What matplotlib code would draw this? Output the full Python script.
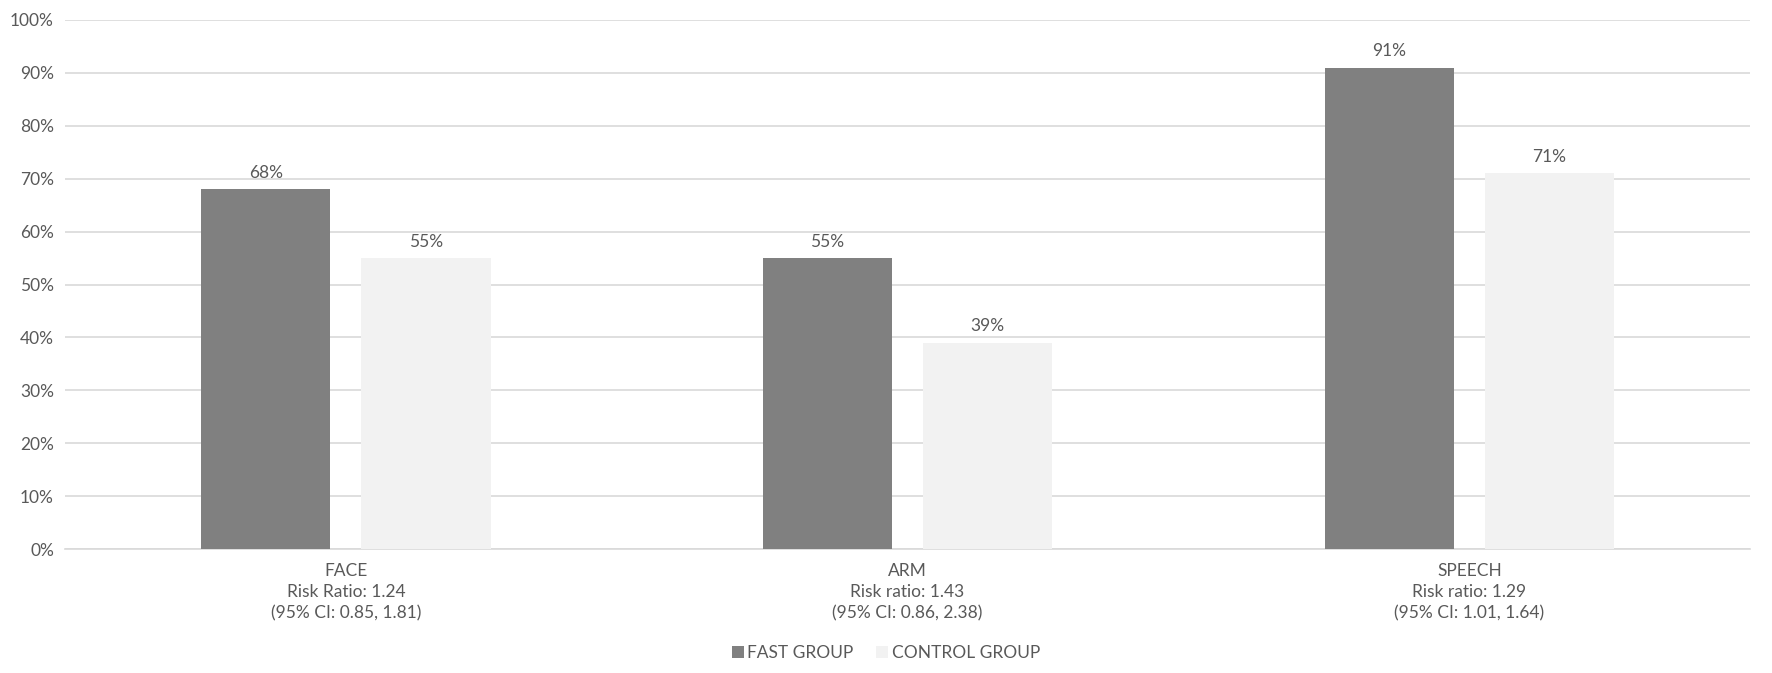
import numpy as np
import matplotlib.pyplot as plt
from matplotlib import ticker

plt.rcParams['font.family'] = ['Lato', 'DejaVu Sans']

categories = ["FACE\nRisk Ratio: 1.24\n(95% CI: 0.85, 1.81)",
              "ARM\nRisk ratio: 1.43\n(95% CI: 0.86, 2.38)",
              "SPEECH\nRisk ratio: 1.29\n(95% CI: 1.01, 1.64)"]
fast_group = [68, 55, 91]
control_group = [55, 39, 71]
series_names = ["FAST GROUP", "CONTROL GROUP"]

text_color = "#595959"
grid_color = "#d9d9d9"
fs = 12.5

fig = plt.figure(figsize=(17.72, 6.73), dpi=100)
ax = fig.add_axes([0.0367, 0.1842, 0.951, 0.7861])

ind = np.arange(len(categories))
width = 0.23
offset = 0.1425
b1 = ax.bar(ind - offset, fast_group, width, color="#808080", label=series_names[0], zorder=3)
b2 = ax.bar(ind + offset, control_group, width, color="#f2f2f2", label=series_names[1], zorder=3)
for bars in (b1, b2):
    ax.bar_label(bars, fmt="%d%%", padding=6, color=text_color, fontsize=fs)

ax.set_xlim(-0.5, 2.5)
ax.set_ylim(0, 100)
ax.yaxis.set_major_locator(ticker.MultipleLocator(10))
ax.yaxis.set_major_formatter(ticker.PercentFormatter(xmax=100, decimals=0))
ax.grid(axis="y", color=grid_color, linewidth=1.2, zorder=0)
ax.set_xticks(ind)
ax.set_xticklabels(categories, linespacing=1.4)
ax.tick_params(axis="both", length=0, colors=text_color, labelsize=fs)
ax.tick_params(axis="x", pad=10)
ax.tick_params(axis="y", pad=8)
for s in ["top", "right", "left"]:
    ax.spines[s].set_visible(False)
ax.spines["bottom"].set_color(grid_color)
ax.spines["bottom"].set_linewidth(1.2)

fig.legend(loc="lower center", bbox_to_anchor=(0.5, -0.005), ncol=2, frameon=False,
           fontsize=fs, labelcolor=text_color, handlelength=0.7, handleheight=0.7,
           handletextpad=0.2, columnspacing=1.3)

fig.savefig("out.png", dpi=100)
